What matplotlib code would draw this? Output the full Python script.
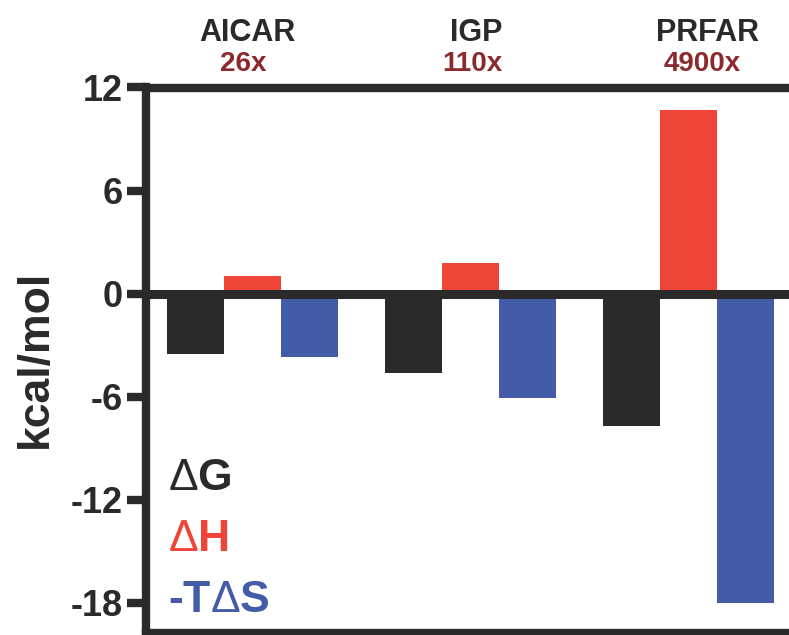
import matplotlib
matplotlib.use('Agg')
import matplotlib.pyplot as plt
from matplotlib.transforms import blended_transform_factory
import numpy as np

# ---- data ----
ligands = ['AICAR', 'IGP', 'PRFAR']
fold_labels = ['26x', '110x', '4900x']
dG = [-3.5, -4.6, -7.7]
dH = [1.0, 1.8, 10.7]
mTdS = [-3.7, -6.1, -18.0]
series_labels = [r'$\Delta$G', r'$\Delta$H', r'-T$\Delta$S']
yticks = [12, 6, 0, -6, -12, -18]

# ---- style ----
BLACK = '#2a2a2a'
RED = '#ef4438'
BLUE = '#445ca8'
DARKRED = '#8b2a2c'
colors = [BLACK, RED, BLUE]

plt.rcParams['font.family'] = ['Liberation Sans', 'DejaVu Sans']
plt.rcParams['mathtext.fontset'] = 'custom'
plt.rcParams['mathtext.rm'] = 'Liberation Sans'
plt.rcParams['mathtext.it'] = 'Liberation Sans'

W, H = 789, 635
fig = plt.figure(figsize=(W / 100, H / 100), dpi=100)
ax = fig.add_axes([146 / W, 2 / H, 654 / W, 545.5 / H])

x = np.arange(len(ligands))
bw = 0.262
for off, vals, c in zip([-bw, 0, bw], [dG, dH, mTdS], colors):
    ax.bar(x + off, vals, width=bw, color=c, linewidth=0, zorder=2)

ax.axhline(0, color=BLACK, lw=6.5, zorder=3)

ax.set_xlim(-0.4885, 2.5115)
ax.set_ylim(-19.77, 12)
ax.set_xticks([])
ax.set_yticks(yticks)
ax.set_yticklabels([str(t) for t in yticks])
ax.tick_params(axis='y', length=14, width=6, color=BLACK, labelsize=26,
               pad=3, labelcolor=BLACK)
for lbl in ax.get_yticklabels():
    lbl.set_fontweight('bold')

for side in ['left', 'top', 'bottom']:
    ax.spines[side].set_linewidth(6)
    ax.spines[side].set_color(BLACK)
ax.spines['right'].set_visible(False)

# y label
fig.text(47 / W, (H - 359) / H, 'kcal/mol', rotation=90, rotation_mode='anchor',
         ha='center', va='baseline', fontsize=32, fontweight='bold', color=BLACK)

# group labels above the plot
trans = blended_transform_factory(ax.transData, fig.transFigure)
name_nudge = [-0.025, 0.025, 0.087]
fold_nudge = [-0.044, 0.007, 0.062]
for i, (name, fl) in enumerate(zip(ligands, fold_labels)):
    ax.text(i + name_nudge[i], (H - 40.7) / H, name, transform=trans,
            ha='center', va='baseline', fontsize=22, fontweight='bold',
            color=BLACK, clip_on=False)
    ax.text(i + fold_nudge[i], (H - 70.7) / H, fl, transform=trans,
            ha='center', va='baseline', fontsize=20, fontweight='bold',
            color=DARKRED, clip_on=False)

# series legend text
legend_baselines = [490, 551, 612]
for lab, c, yb in zip(series_labels, colors, legend_baselines):
    fig.text(168 / W, (H - yb) / H, lab, ha='left', va='baseline',
             fontsize=32, fontweight='bold', color=c)

fig.savefig('out.png', dpi=100)
